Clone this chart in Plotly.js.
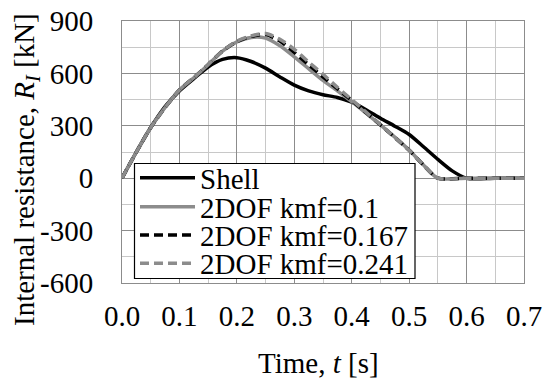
<!DOCTYPE html>
<html>
<head>
<meta charset="utf-8">
<script src="https://cdn.plot.ly/plotly-3.0.1.min.js"></script>
<style>html,body{margin:0;padding:0;background:#fff;}#chart{width:548px;height:378px;}</style>
</head>
<body>
<div id="chart"></div>
<script>
// ---- data ----
const timeShell = [0, 0.025, 0.05, 0.075, 0.1, 0.125, 0.15, 0.175, 0.2, 0.225, 0.25, 0.275, 0.3, 0.325, 0.35, 0.375, 0.4, 0.425, 0.45, 0.475, 0.5, 0.525, 0.55, 0.575, 0.6, 0.65, 0.7];
const rShell    = [0, 150, 290, 410, 500, 570, 637, 680, 690, 668, 630, 580, 533, 500, 478, 462, 435, 392, 343, 298, 250, 180, 108, 42, 0, 0, 0];

const time2dof = [0, 0.025, 0.05, 0.075, 0.1, 0.125, 0.15, 0.175, 0.2, 0.225, 0.25, 0.275, 0.3, 0.325, 0.35, 0.375, 0.4, 0.425, 0.45, 0.475, 0.5, 0.525, 0.55, 0.6, 0.65, 0.7];
const rKmf0100 = [0, 150, 290, 405, 505, 575, 650, 728, 780, 806, 802, 758, 695, 627, 560, 500, 438, 372, 305, 235, 161, 75, 0, 0, 0, 0];
const rKmf0167 = [0, 150, 290, 405, 505, 575, 650, 728, 782, 812, 822, 785, 720, 650, 580, 512, 445, 375, 305, 233, 160, 75, 0, 0, 0, 0];
const rKmf0241 = [0, 150, 290, 405, 505, 575, 650, 728, 784, 815, 828, 795, 738, 665, 595, 520, 450, 378, 306, 234, 160, 75, 0, 0, 0, 0];

const seriesNames = ['Shell', '2DOF kmf=0.1', '2DOF kmf=0.167', '2DOF kmf=0.241'];
const xTickVals = [0, 0.1, 0.2, 0.3, 0.4, 0.5, 0.6, 0.7];
const xTickText = ['0.0', '0.1', '0.2', '0.3', '0.4', '0.5', '0.6', '0.7'];
const yTickVals = [-600, -300, 0, 300, 600, 900];
const yTickText = ['-600', '-300', '0', '300', '600', '900'];

// ---- styles ----
const FONT = '"Liberation Serif", "Times New Roman", serif';
const styles = [
  {color: '#000000', dash: 'solid'},
  {color: '#8c8c8c', dash: 'solid'},
  {color: '#000000', dash: '9px,5px'},
  {color: '#8c8c8c', dash: '9px,5px'}
];
const xs = [timeShell, time2dof, time2dof, time2dof];
const ys = [rShell, rKmf0100, rKmf0167, rKmf0241];

const traces = ys.map((y, i) => ({
  type: 'scatter', mode: 'lines', name: seriesNames[i],
  x: xs[i], y: y,
  line: {color: styles[i].color, dash: styles[i].dash, width: 3.5, shape: 'spline', smoothing: 0.7},
  showlegend: false, hoverinfo: 'skip'
}));

// plot area pixel geometry
const L = 122, R = 524, T = 21, B = 283;
const px2x = p => (p - L) / (R - L);
const py2y = p => (B - p) / (B - T);

// custom legend
const legRowsY = [177.7, 206.7, 235, 263.3];
const shapes = [{
  type: 'rect', xref: 'paper', yref: 'paper', layer: 'above',
  x0: px2x(134.5), x1: px2x(415), y0: py2y(278.5), y1: py2y(163.5),
  fillcolor: '#ffffff', line: {color: '#000000', width: 1.2}
}];
const annotations = [];
legRowsY.forEach((yy, i) => {
  shapes.push({
    type: 'line', xref: 'paper', yref: 'paper', layer: 'above',
    x0: px2x(140), x1: px2x(195), y0: py2y(yy), y1: py2y(yy),
    line: {color: styles[i].color, dash: styles[i].dash, width: 3.5}
  });
  annotations.push({
    xref: 'paper', yref: 'paper', x: px2x(198), y: py2y(yy + 1),
    xanchor: 'left', yanchor: 'middle', showarrow: false, height: 26, valign: 'middle',
    text: seriesNames[i], font: {family: FONT, size: 29, color: '#000'}
  });
});
annotations.push({
  xref: 'paper', yref: 'paper', x: px2x(318), y: py2y(363),
  xanchor: 'center', yanchor: 'middle', showarrow: false,
  text: 'Time, <i>t</i> [s]', font: {family: FONT, size: 29, color: '#000'}
});
annotations.push({
  xref: 'paper', yref: 'paper', x: px2x(26), y: py2y(170),
  xanchor: 'center', yanchor: 'middle', showarrow: false, textangle: -90,
  text: 'Internal resistance, <i>R</i><sub><i>I</i></sub> [kN]', font: {family: FONT, size: 29, color: '#000'}
});

const layout = {
  width: 548, height: 378,
  margin: {l: L, r: 548 - R, t: T, b: 378 - B, pad: 0},
  paper_bgcolor: '#ffffff', plot_bgcolor: '#ffffff',
  font: {family: FONT, size: 29, color: '#000'},
  showlegend: false,
  xaxis: {
    range: [0, 0.7], tickmode: 'array', tickvals: xTickVals, ticktext: xTickText,
    showgrid: true, gridcolor: '#8c8c8c', gridwidth: 1,
    minor: {dtick: 0.05, tick0: 0, showgrid: true, gridcolor: '#c8c8c8', gridwidth: 1},
    zeroline: false, showline: true, mirror: true, linecolor: '#8c8c8c', linewidth: 1,
    ticks: '', ticklabelstandoff: 7,
    tickfont: {family: FONT, size: 29, color: '#000'}
  },
  yaxis: {
    range: [-600, 900], tickmode: 'array', tickvals: yTickVals, ticktext: yTickText,
    showgrid: true, gridcolor: '#8c8c8c', gridwidth: 1,
    minor: {dtick: 150, tick0: 0, showgrid: true, gridcolor: '#c8c8c8', gridwidth: 1},
    zeroline: false, showline: true, mirror: true, linecolor: '#8c8c8c', linewidth: 1,
    ticks: '', ticklabelstandoff: 22,
    tickfont: {family: FONT, size: 29, color: '#000'}
  },
  shapes: shapes,
  annotations: annotations
};

Plotly.newPlot('chart', traces, layout, {staticPlot: true, displayModeBar: false});
</script>
</body>
</html>
